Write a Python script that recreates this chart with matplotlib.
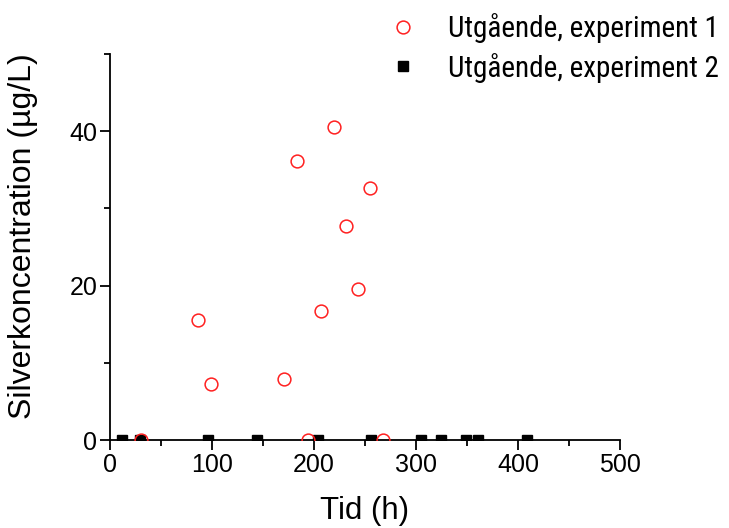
import matplotlib
matplotlib.use("Agg")
import matplotlib.pyplot as plt
from matplotlib.ticker import MultipleLocator

plt.rcParams['font.family'] = ['Liberation Sans', 'DejaVu Sans']

# Experiment 1 (red open circles)
exp1_t = [30.4, 86.3, 99.0, 170.9, 183.3, 194.4, 206.9, 219.3, 231.0, 242.8, 255.2, 267.6]
exp1_c = [0.0, 15.5, 7.2, 7.9, 36.1, 0.0, 16.7, 40.6, 27.7, 19.5, 32.6, 0.0]
# Experiment 2 (black squares)
exp2_t = [12.0, 29.7, 96.4, 144.4, 204.2, 256.2, 304.6, 324.2, 348.7, 360.5, 408.5]
exp2_c = [0.0] * 11

label1 = "Utgående, experiment 1"
label2 = "Utgående, experiment 2"

W, H = 729, 528
fig = plt.figure(figsize=(W/100, H/100), dpi=100)
ax = fig.add_axes([110/W, (H-440)/H, (620-110)/W, (440-54)/H])

ax.plot(exp1_t, exp1_c, linestyle='none', marker='o', markersize=9.2,
        markerfacecolor='none', markeredgecolor='#ff2020', markeredgewidth=1.1, label=label1, zorder=3)
ax.plot(exp2_t, exp2_c, linestyle='none', marker='s', markersize=7.8,
        markerfacecolor='black', markeredgecolor='black', label=label2, zorder=2)

ax.set_xlim(0, 500)
ax.set_ylim(0, 50)
ax.xaxis.set_major_locator(MultipleLocator(100))
ax.xaxis.set_minor_locator(MultipleLocator(50))
ax.yaxis.set_major_locator(MultipleLocator(20))
ax.yaxis.set_minor_locator(MultipleLocator(10))
ax.spines['top'].set_visible(False)
ax.spines['right'].set_visible(False)
for s in ('left', 'bottom'):
    ax.spines[s].set_linewidth(1.3)
ax.tick_params(which='major', direction='out', length=7, width=1.3, labelsize=18, pad=2)
ax.tick_params(which='minor', direction='out', length=4, width=1.3)

ax.set_xlabel("Tid (h)", fontsize=22.5, labelpad=14)
ax.set_ylabel("Silverkoncentration (µg/L)", fontsize=23)
ax.yaxis.set_label_coords((38 - 110) / 510, (440 - 236) / 386)

leg = fig.legend(loc='upper left', bbox_to_anchor=(388/W, 1 - 13/H), frameon=False,
                 prop={'family': ['Roboto Condensed', 'Liberation Sans'], 'size': 21},
                 handletextpad=1.0, labelspacing=0.33, borderaxespad=0, borderpad=0,
                 handlelength=1.05)

fig.savefig("out.png", dpi=100)
